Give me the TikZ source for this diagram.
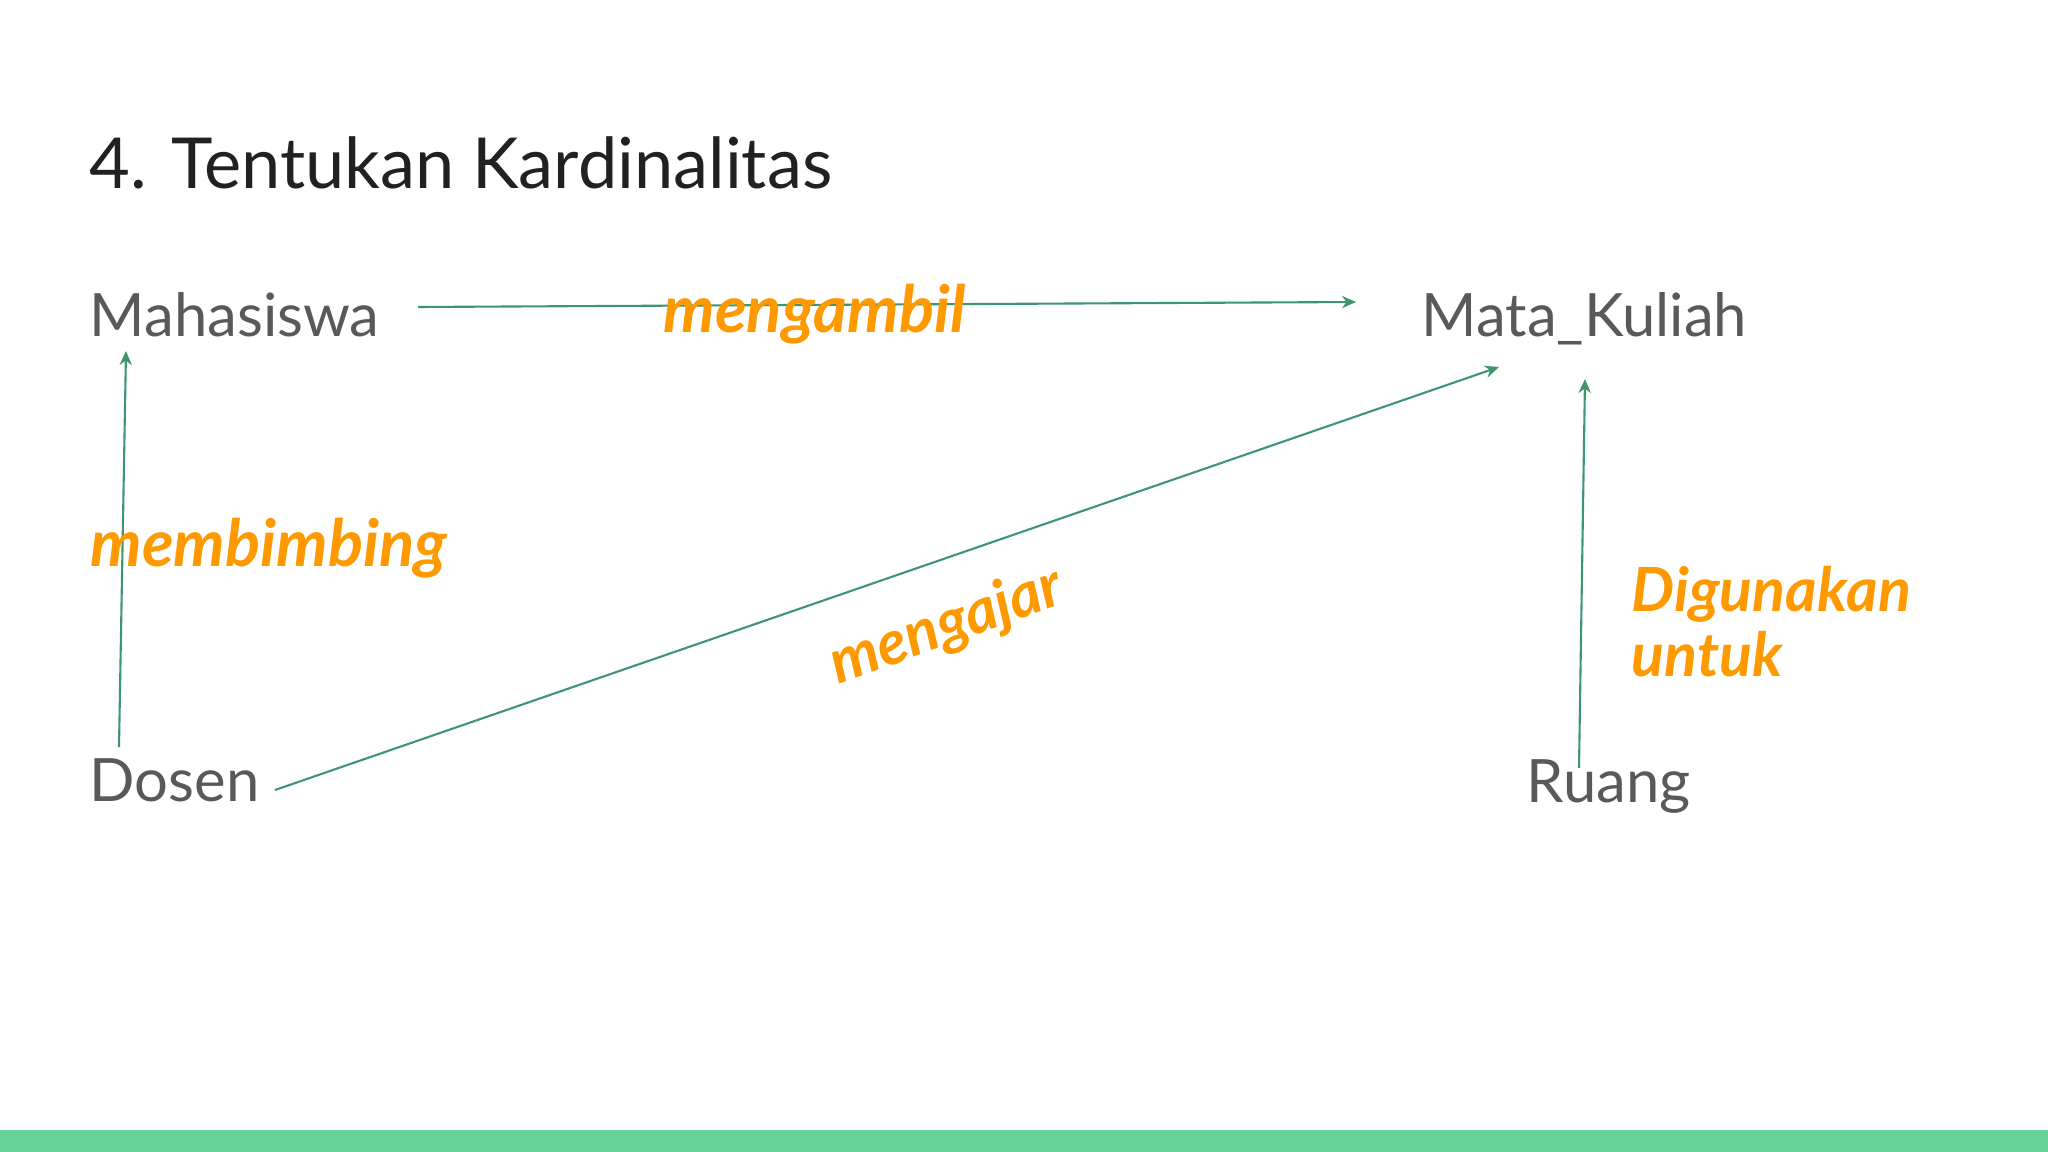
\documentclass[tikz,border=0pt]{standalone}
\usepackage{fontspec}
\setmainfont{Lato}
\usetikzlibrary{arrows.meta}
\definecolor{txtgray}{RGB}{89,89,89}
\definecolor{relgreen}{RGB}{61,150,110}
\definecolor{lblorange}{RGB}{255,153,0}
\definecolor{bargreen}{RGB}{102,210,152}

\begin{document}
\begin{tikzpicture}[x=0.01cm, y=-0.01cm,
    entity/.style={inner sep=0pt, anchor=base west, text=txtgray, font=\fontsize{17}{20}\selectfont},
    rel/.style={draw=relgreen, line width=0.6pt, -{Stealth[length=4pt,width=3.5pt]}},
    lbl/.style={inner sep=0pt, text=lblorange, font=\fontsize{18.5}{17.9}\selectfont\bfseries\itshape}]
    \useasboundingbox (0,0) rectangle (2048,1152);
    \fill[bargreen] (0,1130) rectangle (2048,1152);

    \node[inner sep=0pt, anchor=base west, text=black!87, font=\fontsize{20}{24}\selectfont] (title) at (89,189) {4. Tentukan Kardinalitas};

    \node[entity] (Mahasiswa) at (89,337) {Mahasiswa};
    \node[entity] (MataKuliah) at (1421,337) {Mata\_Kuliah};
    \node[entity] (Dosen) at (89,801) {Dosen};
    \node[entity] (Ruang) at (1526,802) {Ruang};

    % garis relasi
    \draw[rel] ([shift={(329,-30)}]Mahasiswa.base west) -- ([shift={(-65,-35)}]MataKuliah.base west);
    \draw[rel] ([shift={(30,-54)}]Dosen.base west) -- ([shift={(37,14)}]Mahasiswa.base west);
    \draw[rel] ([shift={(186,-11)}]Dosen.base west) -- ([shift={(78,30)}]MataKuliah.base west);
    \draw[rel] ([shift={(53,-34)}]Ruang.base west) -- ([shift={(164,42)}]MataKuliah.base west);

    \node[lbl, anchor=base west] (mengambil) at (663,333) {mengambil};
    \node[lbl, anchor=base west] (membimbing) at (90,567) {membimbing};
    \node[lbl, rotate=20, font=\fontsize{17.5}{17.9}\selectfont\bfseries\itshape] (mengajar) at (947,627) {mengajar};
    \node[lbl, anchor=base west, align=left, font=\fontsize{17.3}{18.2}\selectfont\bfseries\itshape] (digunakan) at (1631,676) {Digunakan\\untuk};
\end{tikzpicture}
\end{document}
